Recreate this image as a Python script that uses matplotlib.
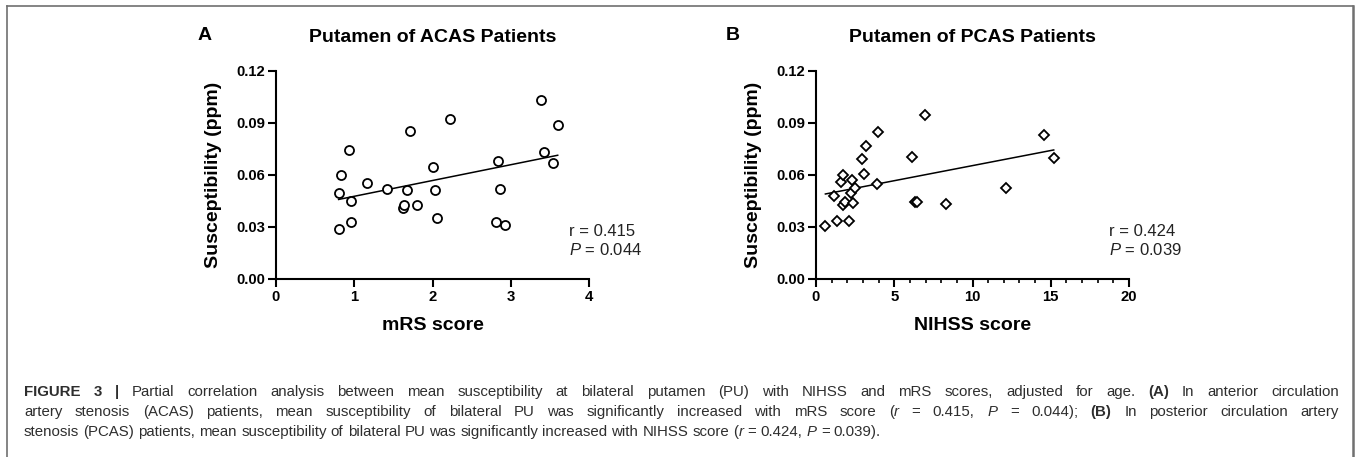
import re

import numpy as np
import matplotlib

matplotlib.use("Agg")
import matplotlib.pyplot as plt
from matplotlib.lines import Line2D
from matplotlib.ticker import FormatStrFormatter, MultipleLocator

plt.rcParams["font.family"] = ["Liberation Sans", "DejaVu Sans"]
plt.rcParams["mathtext.fontset"] = "custom"
plt.rcParams["mathtext.rm"] = "Liberation Sans"
plt.rcParams["mathtext.it"] = "Liberation Sans:italic"

W, H, DPI = 1360, 457, 100

# Panel A: putamen susceptibility vs. mRS score (ACAS patients)
acas_mrs = [0.80, 0.80, 0.83, 0.93, 0.96, 0.96, 1.16, 1.42, 1.62, 1.64, 1.68, 1.71, 1.80,
            2.00, 2.03, 2.06, 2.22, 2.81, 2.84, 2.86, 2.93, 3.39, 3.42, 3.54, 3.60]
acas_sus = [0.0288, 0.0498, 0.0598, 0.0746, 0.0452, 0.0327, 0.0556, 0.0519, 0.0410, 0.0425,
            0.0513, 0.0854, 0.0427, 0.0644, 0.0513, 0.0350, 0.0921, 0.0331, 0.0679, 0.0519,
            0.0313, 0.1033, 0.0731, 0.0669, 0.0890]

# Panel B: putamen susceptibility vs. NIHSS score (PCAS patients)
pcas_nihss = [0.60, 1.17, 1.34, 1.60, 1.75, 1.70, 1.88, 2.09, 2.22, 2.32, 2.34, 2.49, 2.96,
              3.07, 3.19, 3.90, 3.98, 6.16, 6.35, 6.48, 6.96, 8.33, 12.14, 14.59, 15.19]
pcas_sus = [0.0305, 0.0481, 0.0335, 0.0560, 0.0600, 0.0425, 0.0445, 0.0335, 0.0498, 0.0569,
            0.0439, 0.0525, 0.0692, 0.0604, 0.0765, 0.0548, 0.0849, 0.0702, 0.0447, 0.0443,
            0.0949, 0.0435, 0.0525, 0.0828, 0.0696]

y_ticks = [0.00, 0.03, 0.06, 0.09, 0.12]
acas_x_ticks = [0, 1, 2, 3, 4]
pcas_x_ticks = [0, 5, 10, 15, 20]

stats_acas = ("0.415", "0.044")
stats_pcas = ("0.424", "0.039")

caption_lines = [
    "**FIGURE 3 |** Partial correlation analysis between mean susceptibility at bilateral putamen "
    "(PU) with NIHSS and mRS scores, adjusted for age. **(A)** In anterior circulation",
    "artery stenosis (ACAS) patients, mean susceptibility of bilateral PU was significantly "
    "increased with mRS score (_r_ = 0.415, _P_ = 0.044); **(B)** In posterior circulation artery",
    "stenosis (PCAS) patients, mean susceptibility of bilateral PU was significantly increased "
    "with NIHSS score (_r_ = 0.424, _P_ = 0.039).",
]

INK = "black"
CAPTION_INK = "#2e2e2e"
BORDER = "#707070"


def fx(px):
    return px / W


def fy(py):
    return 1 - py / H


def draw_panel(ax, xs, ys, marker, ms, xticks, xlabel, title, stats, minor=None):
    ax.plot(xs, ys, linestyle="none", marker=marker, ms=ms, mfc="white",
            mec=INK, mew=1.3, zorder=3, clip_on=False)
    k, b = np.polyfit(xs, ys, 1)
    fit_x = np.array([min(xs), max(xs)])
    ax.plot(fit_x, k * fit_x + b, color=INK, lw=1.1, zorder=2)

    ax.set_xlim(xticks[0], xticks[-1])
    ax.set_ylim(y_ticks[0], y_ticks[-1])
    ax.set_xticks(xticks)
    ax.set_yticks(y_ticks)
    ax.yaxis.set_major_formatter(FormatStrFormatter("%.2f"))
    if minor:
        ax.xaxis.set_minor_locator(MultipleLocator(minor))
    for spine in ("top", "right"):
        ax.spines[spine].set_visible(False)
    for spine in ("left", "bottom"):
        ax.spines[spine].set_linewidth(1.5)
    ax.tick_params(which="major", length=6, width=1.5, pad=2, labelsize=10.7)
    ax.tick_params(which="minor", length=3, width=1.2)
    for lbl in ax.get_xticklabels() + ax.get_yticklabels():
        lbl.set_fontweight("bold")

    ax.set_xlabel(xlabel, fontsize=14, fontweight="bold", labelpad=9)
    ax.set_ylabel("Susceptibility (ppm)", fontsize=14, fontweight="bold", labelpad=10)
    ax.set_title(title, fontsize=14, fontweight="bold", pad=21)

    r, p = stats
    ax.text(0.935, 0.23, f"r = {r}", transform=ax.transAxes, fontsize=12,
            color="#222222", va="center", ha="left")
    ax.text(0.935, 0.14, f"$P$ = {p}", transform=ax.transAxes, fontsize=12,
            color="#222222", va="center", ha="left")


def parse_line(line):
    runs, pos = [], 0
    for m in re.finditer(r"\*\*(.+?)\*\*|_(.+?)_", line):
        if m.start() > pos:
            runs.append((line[pos:m.start()], "normal"))
        runs.append((m.group(1), "bold") if m.group(1) else (m.group(2), "italic"))
        pos = m.end()
    if pos < len(line):
        runs.append((line[pos:], "normal"))
    words = [[]]
    for text, kind in runs:
        for i, part in enumerate(text.split(" ")):
            if i > 0:
                words.append([])
            if part:
                words[-1].append((part, kind))
    return [w for w in words if w]


fig = plt.figure(figsize=(W / DPI, H / DPI), dpi=DPI, facecolor="white")

ax_a = fig.add_axes([fx(276), fy(279), 313 / W, 208 / H])
ax_b = fig.add_axes([fx(816), fy(279), 313 / W, 208 / H])

draw_panel(ax_a, acas_mrs, acas_sus, "o", 6.5, acas_x_ticks, "mRS score",
           "Putamen of ACAS Patients", stats_acas)
draw_panel(ax_b, pcas_nihss, pcas_sus, "D", 4.6, pcas_x_ticks, "NIHSS score",
           "Putamen of PCAS Patients", stats_pcas, minor=1)

fig.text(fx(205), fy(35), "A", fontsize=14, fontweight="bold", ha="center", va="center")
fig.text(fx(733), fy(35), "B", fontsize=14, fontweight="bold", ha="center", va="center")

# frame around the figure panel
fig.add_artist(Line2D([fx(7), fx(1353)], [fy(6), fy(6)], color=BORDER, lw=1.2))
fig.add_artist(Line2D([fx(7), fx(7)], [fy(6), 0], color=BORDER, lw=1.2))
fig.add_artist(Line2D([fx(1353), fx(1353)], [fy(6), 0], color=BORDER, lw=1.8))

# justified caption (last line ragged)
fig.canvas.draw()
renderer = fig.canvas.get_renderer()
cap_size = 10.8
left_px, right_px = 24, 1339
baselines = [396, 416, 436]
space_px = 0.278 * cap_size * DPI / 72
for idx, (line, base) in enumerate(zip(caption_lines, baselines)):
    placed = []
    for word in parse_line(line):
        parts = []
        for text, kind in word:
            t = fig.text(0, fy(base), text, fontsize=cap_size, color=CAPTION_INK,
                         fontweight="bold" if kind == "bold" else "normal",
                         fontstyle="italic" if kind == "italic" else "normal",
                         ha="left", va="baseline")
            parts.append((t, t.get_window_extent(renderer).width))
        placed.append(parts)
    word_w = [sum(w for _, w in parts) for parts in placed]
    justify = idx < len(caption_lines) - 1
    gap = (right_px - left_px - sum(word_w)) / (len(placed) - 1) if justify else space_px
    x = left_px
    for parts, ww in zip(placed, word_w):
        cx = x
        for t, w in parts:
            t.set_x(fx(cx))
            cx += w
        x += ww + gap

fig.savefig("out.png", dpi=DPI, facecolor="white")
